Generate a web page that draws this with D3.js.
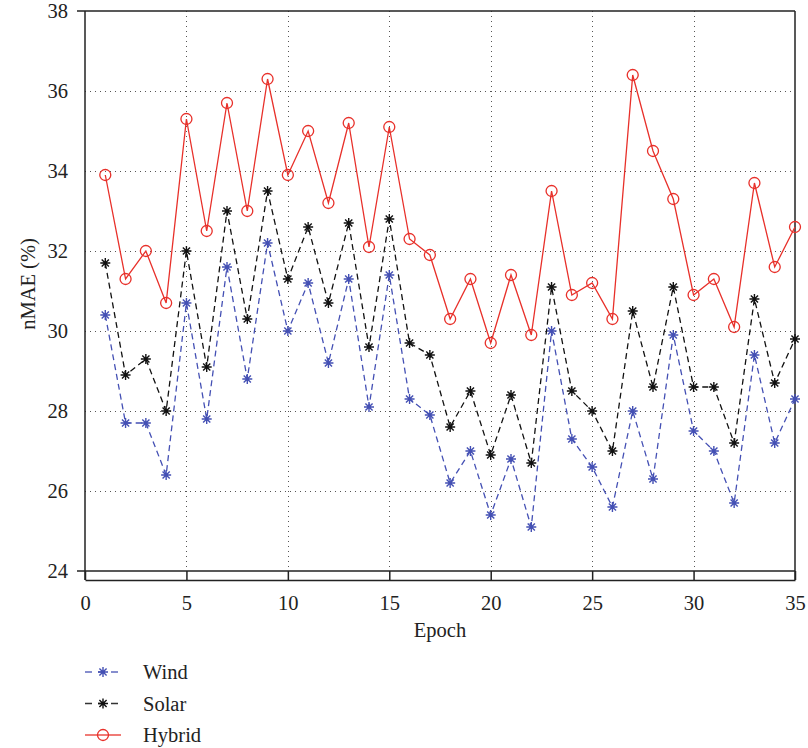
<!DOCTYPE html>
<html>
<head>
<meta charset="utf-8">
<script src="https://cdn.jsdelivr.net/npm/d3@7"></script>
<style>
  body { margin: 0; background: #fff; }
  svg text { font-family: "Liberation Serif", "DejaVu Serif", serif; fill: #222; }
</style>
</head>
<body>
<svg class="line-chart" width="808" height="748"></svg>
<script>
const epochs = d3.range(1, 36);
const wind = [30.4, 27.7, 27.7, 26.4, 30.7, 27.8, 31.6, 28.8, 32.2, 30.0,
              31.2, 29.2, 31.3, 28.1, 31.4, 28.3, 27.9, 26.2, 27.0, 25.4,
              26.8, 25.1, 30.0, 27.3, 26.6, 25.6, 28.0, 26.3, 29.9, 27.5,
              27.0, 25.7, 29.4, 27.2, 28.3];
const solar = [31.7, 28.9, 29.3, 28.0, 32.0, 29.1, 33.0, 30.3, 33.5, 31.3,
               32.6, 30.7, 32.7, 29.6, 32.8, 29.7, 29.4, 27.6, 28.5, 26.9,
               28.4, 26.7, 31.1, 28.5, 28.0, 27.0, 30.5, 28.6, 31.1, 28.6,
               28.6, 27.2, 30.8, 28.7, 29.8];
const hybrid = [33.9, 31.3, 32.0, 30.7, 35.3, 32.5, 35.7, 33.0, 36.3, 33.9,
                35.0, 33.2, 35.2, 32.1, 35.1, 32.3, 31.9, 30.3, 31.3, 29.7,
                31.4, 29.9, 33.5, 30.9, 31.2, 30.3, 36.4, 34.5, 33.3, 30.9,
                31.3, 30.1, 33.7, 31.6, 32.6];
const xTicks = [0, 5, 10, 15, 20, 25, 30, 35];
const yTicks = [24, 26, 28, 30, 32, 34, 36, 38];

const series = [
  { name: "Wind", values: wind, color: "#4450b4", dash: "6,4", marker: "star" },
  { name: "Solar", values: solar, color: "#111", dash: "6,4", marker: "star" },
  { name: "Hybrid", values: hybrid, color: "#e8302a", dash: null, marker: "circle" }
];

const fontSize = 20.5;
const svg = d3.select("svg.line-chart");
const x = d3.scaleLinear().domain([0, 35]).range([85, 795]);
const y = d3.scaleLinear().domain([24, 38]).range([571, 11]);
const axisY = 580;

// grid
const grid = svg.append("g").attr("stroke", "#555").attr("stroke-width", 1)
  .attr("stroke-dasharray", "1,4");
grid.selectAll("line.gx").data(xTicks.slice(1, -1)).join("line")
  .attr("x1", d => Math.round(x(d)) + 0.5).attr("x2", d => Math.round(x(d)) + 0.5)
  .attr("y1", y(38)).attr("y2", y(24));
grid.selectAll("line.gy").data(yTicks.slice(1, -1)).join("line")
  .attr("x1", x(0)).attr("x2", x(35))
  .attr("y1", d => Math.round(y(d)) + 0.5).attr("y2", d => Math.round(y(d)) + 0.5);

// frame
const frame = svg.append("g").attr("stroke", "#222").attr("stroke-width", 1.5).attr("fill", "none");
frame.append("line").attr("x1", 77).attr("x2", x(35)).attr("y1", y(38)).attr("y2", y(38));
frame.append("line").attr("x1", 77).attr("x2", x(35)).attr("y1", y(24)).attr("y2", y(24));
frame.append("line").attr("x1", x(0)).attr("x2", x(0)).attr("y1", y(38)).attr("y2", axisY);
frame.append("line").attr("x1", x(35)).attr("x2", x(35)).attr("y1", y(38)).attr("y2", axisY);

// x axis (offset below the box)
const gx = svg.append("g").attr("transform", `translate(0,${axisY})`)
  .call(d3.axisBottom(x).tickValues(xTicks).tickSizeInner(-9).tickSizeOuter(0).tickPadding(15));
gx.select(".domain").attr("stroke", "#222").attr("stroke-width", 1.5);
gx.selectAll(".tick line").attr("stroke", "#222").attr("stroke-width", 1.5);
gx.selectAll(".tick text").attr("font-size", fontSize).attr("font-family", "Liberation Serif").attr("fill", "#222");

// y axis labels
const gy = svg.append("g").attr("transform", `translate(${x(0)},0)`)
  .call(d3.axisLeft(y).tickValues(yTicks).tickSize(0).tickPadding(17));
gy.select(".domain").remove();
gy.selectAll(".tick text").attr("font-size", fontSize).attr("font-family", "Liberation Serif").attr("fill", "#222");

svg.append("text").attr("x", 440).attr("y", 637).attr("text-anchor", "middle")
  .attr("font-size", fontSize).text("Epoch");
svg.append("text").attr("transform", `translate(35,284) rotate(-90)`)
  .attr("text-anchor", "middle").attr("font-size", fontSize).text("nMAE (%)");

const starPath = "M-5,0H5M0,-5V5M-3.6,-3.6L3.6,3.6M-3.6,3.6L3.6,-3.6";

function drawMarker(sel, s) {
  if (s.marker === "star") {
    sel.append("path").attr("d", starPath).attr("stroke", s.color).attr("stroke-width", 1.4).attr("fill", "none");
  } else {
    sel.append("circle").attr("r", 5.5).attr("stroke", s.color).attr("stroke-width", 1.3).attr("fill", "none");
  }
}

const line = d3.line().x((d, i) => x(epochs[i])).y(d => y(d));

series.forEach(s => {
  svg.append("path").datum(s.values)
    .attr("fill", "none").attr("stroke", s.color).attr("stroke-width", 1.3)
    .attr("stroke-dasharray", s.dash).attr("d", line);
  svg.append("g").selectAll("g").data(s.values).join("g")
    .attr("transform", (d, i) => `translate(${x(epochs[i])},${y(d)})`)
    .each(function () { drawMarker(d3.select(this), s); });
});

// legend
const legend = svg.append("g");
series.forEach((s, i) => {
  const ly = 672 + i * 31.5;
  const g = legend.append("g").attr("transform", `translate(0,${ly})`);
  g.append("line").attr("x1", 85).attr("x2", 121).attr("y1", 0).attr("y2", 0)
    .attr("stroke", s.color).attr("stroke-width", 1.3).attr("stroke-dasharray", s.dash ? "7,6" : null)
    .attr("opacity", 0.85);
  const m = g.append("g").attr("transform", "translate(103,0)");
  drawMarker(m, s);
  g.append("text").attr("x", 143).attr("y", 7).attr("font-size", fontSize).text(s.name);
});
</script>
</body>
</html>
